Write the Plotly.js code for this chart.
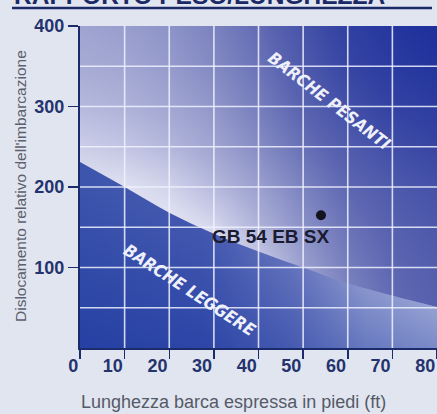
<!DOCTYPE html>
<html>
<head>
<meta charset="utf-8">
<script src="https://cdn.plot.ly/plotly-3.0.1.min.js"></script>
<style>
  html, body { margin: 0; padding: 0; background: #e1e5ef; }
  #chart { width: 437px; height: 414px; }
</style>
</head>
<body>
<div id="chart"></div>
<script>
// ---- data ----
const boundaryX = [0, 10, 20, 30, 40, 50, 60, 70, 80];          // length (ft)
const boundaryY = [231, 200, 168, 142, 120, 100, 80, 65, 51];     // light / heavy boat limit
const boatName = ['GB 54 EB SX'];
const boatLength = [54];
const boatDispl = [165];
const xTickVals = [0, 10, 20, 30, 40, 50, 60, 70, 80];
const yTickVals = [100, 200, 300, 400];
const xGridVals = [10, 20, 30, 40, 50, 60, 70];
const yGridVals = [50, 100, 150, 200, 250, 300, 350];
// background shading (lightness, 0 = dark blue, 1 = white)
const shadeX = [0, 10, 20, 30, 40, 50, 60, 70, 80];
const shadeY = [0, 50, 100, 150, 200, 250, 300, 350, 400];
const shadeZ = [
  [0.95, 0.95, 0.95, 0.95, 0.90, 0.76, 0.58, 0.46, 0.40],
  [0.95, 0.95, 0.95, 0.95, 0.88, 0.72, 0.54, 0.43, 0.38],
  [0.95, 0.95, 0.95, 0.95, 0.84, 0.64, 0.50, 0.41, 0.36],
  [0.95, 0.95, 0.95, 0.88, 0.72, 0.58, 0.46, 0.38, 0.33],
  [0.93, 0.92, 0.86, 0.75, 0.64, 0.52, 0.41, 0.34, 0.29],
  [0.84, 0.80, 0.74, 0.66, 0.56, 0.45, 0.35, 0.27, 0.22],
  [0.75, 0.72, 0.67, 0.60, 0.50, 0.39, 0.28, 0.20, 0.15],
  [0.69, 0.67, 0.62, 0.55, 0.46, 0.34, 0.22, 0.14, 0.09],
  [0.66, 0.63, 0.59, 0.52, 0.43, 0.30, 0.18, 0.10, 0.05]
];
const labelHeavy = 'BARCHE PESANTI';
const labelLight = 'BARCHE LEGGERE';
const chartTitle = 'RAPPORTO PESO/LUNGHEZZA';
const xTitle = 'Lunghezza barca espressa in piedi (ft)';
const yTitle = "Dislocamento relativo dell'imbarcazione";

// ---- layout helpers ----
const W = 437, H = 414;
const M = { l: 80, r: 0, t: 26, b: 66 };
const plotH = H - M.t - M.b, plotW = W - M.l - M.r;
const py = p => (H - M.b - p) / plotH;   // pixel row -> paper y
const px = p => (p - M.l) / plotW;       // pixel col -> paper x

const NAVY = '#1c2b6c';
const FONT = 'Liberation Sans, Arial, sans-serif';
const NARROW = 'DejaVu Sans Condensed, Liberation Sans Narrow, Liberation Sans, Arial, sans-serif';

const traces = [
  {
    type: 'heatmap', x: shadeX, y: shadeY, z: shadeZ, zsmooth: 'best',
    zmin: 0, zmax: 1, showscale: false, hoverinfo: 'skip',
    colorscale: [[0, '#16299a'], [0.2, '#3342a2'], [0.4, '#5a64b0'],
                 [0.6, '#9096c9'], [0.8, '#c2c5e3'], [1, '#f4f4fb']]
  },
  {
    type: 'scatter', mode: 'lines', x: boundaryX, y: boundaryY,
    line: { width: 0, shape: 'spline', smoothing: 1 }, fill: 'tozeroy',
    fillgradient: { type: 'horizontal', start: 0, stop: 80,
      colorscale: [[0, '#3c54ac'], [0.35, '#4a5eb2'], [0.6, '#7e88c6'],
                   [0.8, '#bfc4e4'], [1, '#e6e8f5']] },
    hoverinfo: 'skip', showlegend: false
  },
  {
    type: 'scatter', mode: 'lines', x: boundaryX, y: boundaryY,
    line: { width: 0, shape: 'spline', smoothing: 1 }, fill: 'tozeroy',
    fillgradient: { type: 'vertical', start: 0, stop: 200,
      colorscale: [[0, 'rgba(15,45,155,0.5)'], [1, 'rgba(15,45,155,0)']] },
    hoverinfo: 'skip', showlegend: false
  },
  {
    type: 'scatter', mode: 'markers', x: boatLength, y: boatDispl,
    marker: { size: 10, color: '#141420' }, showlegend: false, hoverinfo: 'skip'
  }
];

const shapes = [];
xGridVals.forEach(v => shapes.push({ type: 'line', xref: 'x', yref: 'y', x0: v, x1: v, y0: 0, y1: 400,
  line: { color: 'rgba(240,242,255,0.85)', width: 1.6 }, layer: 'above' }));
yGridVals.forEach(v => shapes.push({ type: 'line', xref: 'x', yref: 'y', x0: 0, x1: 80, y0: v, y1: v,
  line: { color: 'rgba(240,242,255,0.85)', width: 1.6 }, layer: 'above' }));
// title underline
shapes.push({ type: 'line', xref: 'paper', yref: 'paper', x0: px(12), x1: px(432), y0: py(8), y1: py(8),
  line: { color: '#1b2a66', width: 2.5 } });

const annotations = [
  { text: chartTitle, xref: 'paper', yref: 'paper', x: px(12), y: py(-4), xanchor: 'left', yanchor: 'middle',
    showarrow: false, font: { family: FONT, size: 24.5, color: '#1b2a66', weight: 'bold' } },
  { text: boatName[0], xref: 'x', yref: 'y', x: 42.8, y: 138, showarrow: false,
    font: { family: FONT, size: 19, color: '#1a1a30', weight: 'bold' } },
  { text: labelHeavy, xref: 'x', yref: 'y', x: 56, y: 307, textangle: 37.5, showarrow: false,
    font: { family: NARROW, size: 17, color: '#eef0fa', weight: 'bold', style: 'italic' } },
  { text: labelLight, xref: 'x', yref: 'y', x: 24.6, y: 72, textangle: 33, showarrow: false,
    font: { family: NARROW, size: 17, color: '#eef0fa', weight: 'bold', style: 'italic' } },
  { text: xTitle, xref: 'paper', yref: 'paper', x: px(233), y: py(402), xanchor: 'center', yanchor: 'middle',
    showarrow: false, font: { family: FONT, size: 18, color: '#555a68' } },
  { text: yTitle, xref: 'paper', yref: 'paper', x: px(20), y: py(186), xanchor: 'center', yanchor: 'middle',
    textangle: -90, showarrow: false, font: { family: FONT, size: 15.5, color: '#5c606e' } }
];

const layout = {
  width: W, height: H, margin: M,
  paper_bgcolor: '#e1e5ef', plot_bgcolor: '#e1e5ef',
  showlegend: false,
  xaxis: {
    range: [0, 80], tickvals: xTickVals, ticktext: xTickVals.map(String),
    showgrid: false, zeroline: false, showline: true, linecolor: NAVY, linewidth: 2,
    ticks: 'outside', ticklen: 9, tickwidth: 1.5, tickcolor: NAVY,
    ticklabelposition: 'outside left',
    tickfont: { family: FONT, size: 18, color: '#24336e', weight: 'bold' }
  },
  yaxis: {
    range: [0, 400], tickvals: yTickVals, ticktext: yTickVals.map(String),
    showgrid: false, zeroline: false, showline: true, linecolor: NAVY, linewidth: 2,
    ticks: 'outside', ticklen: 10, tickwidth: 1.5, tickcolor: NAVY,
    tickfont: { family: FONT, size: 18, color: '#24336e', weight: 'bold' }
  },
  shapes: shapes,
  annotations: annotations
};

Plotly.newPlot('chart', traces, layout, { staticPlot: true, displayModeBar: false });
</script>
</body>
</html>
